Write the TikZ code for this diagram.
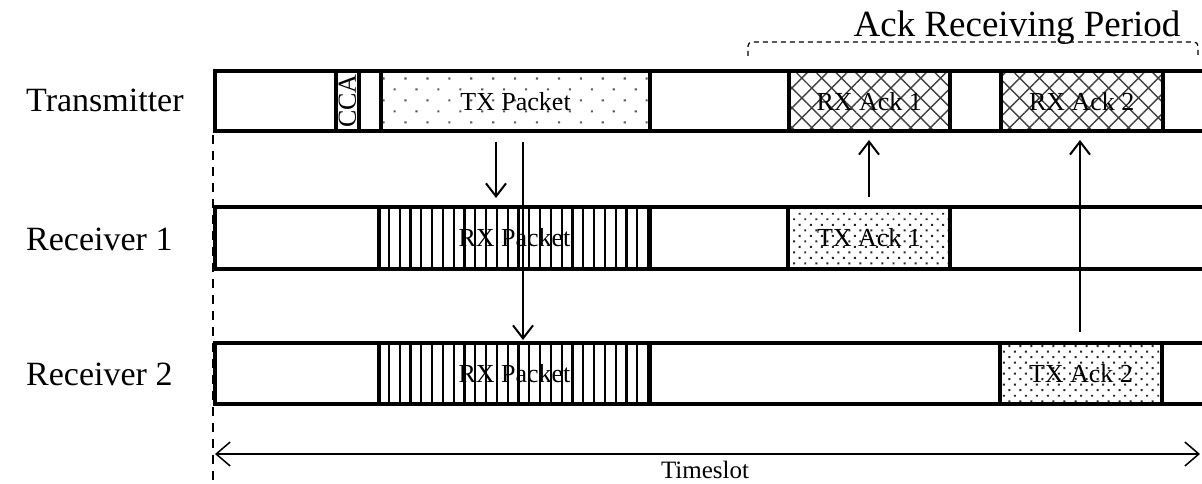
\documentclass[tikz,border=0pt]{standalone}
\usepackage{fontspec}
\setmainfont{Liberation Serif}
\usetikzlibrary{arrows.meta,patterns.meta}
\begin{document}
\begin{tikzpicture}[x=1pt,y=-1pt,
  rowbox/.style={draw,line width=4pt,inner sep=0,outer sep=0,minimum width=1010pt,anchor=west},
  seg/.style={draw,line width=4pt,inner sep=0,outer sep=0,font=\fontsize{26}{26}\selectfont},
  sparsedots/.style={pattern={Dots[distance=15.5pt,angle=45,radius=1.5pt]},pattern color=black!65},
  densedots/.style={pattern={Dots[distance=7.8pt,angle=45,radius=1.4pt]},pattern color=black!85},
  vlines/.style={pattern={Lines[angle=90,distance=10.8pt,line width=2.2pt]},pattern color=black},
  xhatch/.style={pattern={Hatch[angle=45,distance=14pt,line width=1.4pt]},pattern color=black!75},
  lab/.style={inner sep=0,font=\fontsize{34}{34}\selectfont},
  sig/.style={line width=2pt,-{Straight Barb[length=13pt,width=20pt,line width=2pt]}},
]
\useasboundingbox (0,0) rectangle (1202,484);
% rows
\node[rowbox,minimum height=60.5pt] (row1) at (215,101.25) {};
\node[rowbox,minimum height=62pt] (row2) at (215,238) {};
\node[rowbox,minimum height=60.5pt] (row3) at (215,373.25) {};
% row 1 segments
\node[seg,minimum width=60.5pt,minimum height=23pt,rotate=90] (cca) at (347.5,101.25) {CCA};
\node[seg,sparsedots,minimum width=269pt,minimum height=60.5pt] (txpkt) at (515.5,101.25) {TX Packet};
\node[seg,xhatch,minimum width=160.5pt,minimum height=60.5pt] (rxack1) at (869.25,101.25) {RX Ack 1};
\node[seg,xhatch,minimum width=162.5pt,minimum height=60.5pt] (rxack2) at (1081.75,101.25) {RX Ack 2};
% row 2 segments
\node[seg,vlines,minimum width=271pt,minimum height=62pt] (rxpkt1) at (514.5,238) {RX Packet};
\node[seg,densedots,minimum width=162pt,minimum height=62pt] (txack1) at (869,238) {TX Ack 1};
% row 3 segments
\node[seg,vlines,minimum width=271pt,minimum height=60.5pt] (rxpkt2) at (514.5,373.25) {RX Packet};
\node[seg,densedots,minimum width=162pt,minimum height=60.5pt] (txack2) at (1081,373.25) {TX Ack 2};
% labels
\node[lab,anchor=base west] (ltx) at (26,112) {Transmitter};
\node[lab,anchor=base west] (lr1) at (26,250) {Receiver 1};
\node[lab,anchor=base west] (lr2) at (26,385) {Receiver 2};
% signal arrows
\coordinate (d1a) at (496,142); \coordinate (d1b) at (496,198);
\coordinate (d2a) at (523,142); \coordinate (d2b) at (523,340);
\coordinate (u1a) at (869,197); \coordinate (u1b) at (869,140);
\coordinate (u2a) at (1080,332); \coordinate (u2b) at (1080,140);
\draw[sig] (d1a) -- (d1b);
\draw[sig] (d2a) -- (d2b);
\draw[sig] (u1a) -- (u1b);
\draw[sig] (u2a) -- (u2b);
% ack receiving period
\coordinate (p1) at (748,56); \coordinate (p2) at (748,42);
\coordinate (p3) at (1198,42); \coordinate (p4) at (1198,56);
\draw[dashed,line width=1.2pt,dash pattern=on 5pt off 4pt,rounded corners=4pt] (p1) -- (p2) -- (p3) -- (p4);
\node[inner sep=0,anchor=base,font=\fontsize{37}{37}\selectfont] (ackp) at (1017,37) {Ack Receiving Period};
% timeslot
\coordinate (t0) at (213,135); \coordinate (t1) at (213,484);
\draw[line width=1.2pt,dash pattern=on 9pt off 7pt] (t0) -- (t1);
\coordinate (sl) at (215,454); \coordinate (sr) at (1200,454);
\draw[line width=1.5pt,{Straight Barb[length=14pt,width=24pt,line width=1.5pt]}-{Straight Barb[length=14pt,width=24pt,line width=1.5pt]}] (sl) -- (sr);
\node[inner sep=0,anchor=base,font=\fontsize{25}{25}\selectfont] (ts) at (705,478) {Timeslot};
\end{tikzpicture}
\end{document}
